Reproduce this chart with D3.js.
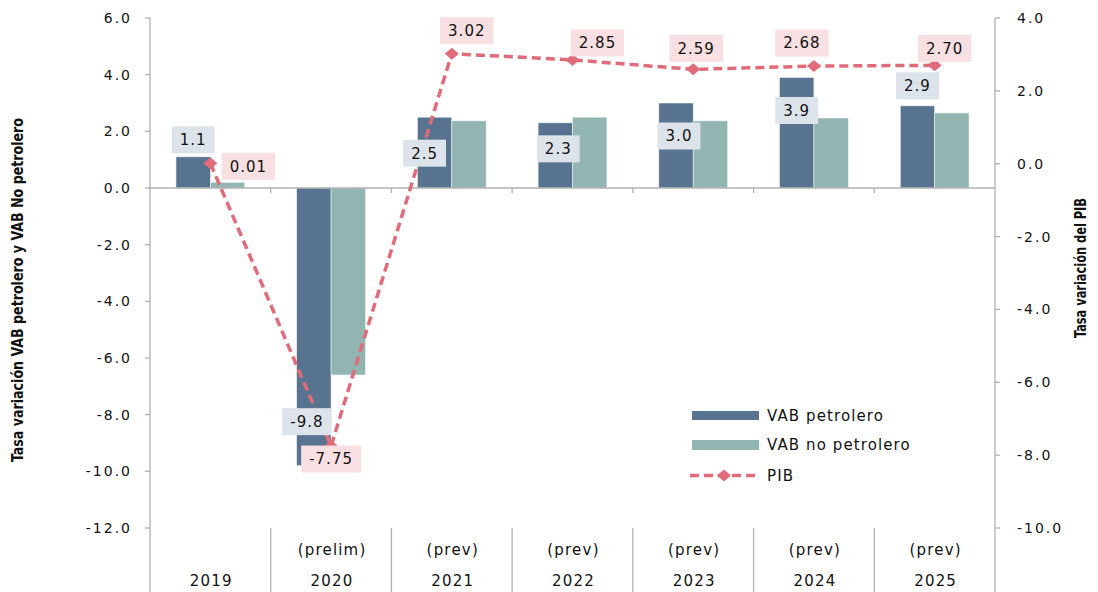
<!DOCTYPE html>
<html>
<head>
<meta charset="utf-8">
<script src="https://cdn.jsdelivr.net/npm/d3@7/dist/d3.min.js"></script>
<style>
  body { margin: 0; background: #fff; }
  svg { display: block; }
  text { font-family: "DejaVu Sans", Verdana, sans-serif; fill: #111; }
</style>
</head>
<body>
<svg id="chart" width="1098" height="592"></svg>
<script>
// Categories and their sub-labels
const years = ["2019", "2020", "2021", "2022", "2023", "2024", "2025"];
const yearNotes = ["", "(prelim)", "(prev)", "(prev)", "(prev)", "(prev)", "(prev)"];

// Growth rates (%)
const vabPetrolero = [1.1, -9.8, 2.5, 2.3, 3.0, 3.9, 2.9];
const vabNoPetrolero = [0.2, -6.6, 2.37, 2.5, 2.37, 2.47, 2.65];
const pib = [0.01, -7.75, 3.02, 2.85, 2.59, 2.68, 2.70];

// Axis ticks
const leftTicks = [6, 4, 2, 0, -2, -4, -6, -8, -10, -12];
const rightTicks = [4, 2, 0, -2, -4, -6, -8, -10];

// Label nudges (px) relative to the bar end / marker
const petroLabelShift = [[0, -17], [-7, -44], [-10, 36], [3, 26], [3, 33], [0, 33], [0, -20]];
const pibLabelShift = [[38, 3], [0, 13], [15, -23], [25, -17], [3, -21], [-12, -23], [10, -17]];

const colors = {
  petro: "#57738f",
  noPetro: "#93b5b1",
  pib: "#e06b79",
  petroBox: "#dce3ea",
  pibBox: "#f8dfe2",
  axis: "#b0b0b0"
};

// Plain hyphen for negatives
const loc = d3.formatLocale({ decimal: ".", thousands: ",", grouping: [3], currency: ["", ""], minus: "-" });
const f1 = loc.format(".1f"), f2 = loc.format(".2f");

const svg = d3.select("#chart");
const plotL = 150, plotR = 995, plotT = 18, plotB = 528;

const x = d3.scaleBand().domain(years).range([plotL, plotR]).padding(0);
const yL = d3.scaleLinear().domain([-12, 6]).range([plotB, plotT]);
const yR = d3.scaleLinear().domain([-10, 4]).range([plotB, plotT]);
const barW = x.bandwidth() * 0.285;
const cx = d => x(d) + x.bandwidth() / 2;

// Bars
const gBars = svg.append("g");
gBars.selectAll("rect.petro").data(years).join("rect")
  .attr("class", "petro")
  .attr("x", d => cx(d) - barW)
  .attr("width", barW)
  .attr("y", (d, i) => Math.min(yL(vabPetrolero[i]), yL(0)))
  .attr("height", (d, i) => Math.abs(yL(vabPetrolero[i]) - yL(0)))
  .attr("fill", colors.petro)
  .attr("stroke", "#eef2f5").attr("stroke-width", 0.6);

gBars.selectAll("rect.nopetro").data(years).join("rect")
  .attr("class", "nopetro")
  .attr("x", d => cx(d))
  .attr("width", barW)
  .attr("y", (d, i) => Math.min(yL(vabNoPetrolero[i]), yL(0)))
  .attr("height", (d, i) => Math.abs(yL(vabNoPetrolero[i]) - yL(0)))
  .attr("fill", colors.noPetro)
  .attr("stroke", "#eef4f3").attr("stroke-width", 0.6);

// Axes
const gAx = svg.append("g").attr("stroke", colors.axis).attr("stroke-width", 1.3);
gAx.append("line").attr("x1", plotL).attr("x2", plotL).attr("y1", plotT).attr("y2", 592);
gAx.append("line").attr("x1", plotR).attr("x2", plotR).attr("y1", plotT).attr("y2", 592);
gAx.append("line").attr("x1", plotL).attr("x2", plotR).attr("y1", yL(0)).attr("y2", yL(0));
// category ticks on the zero line and separators under the plot
years.slice(1).forEach(d => {
  gAx.append("line").attr("x1", x(d)).attr("x2", x(d)).attr("y1", yL(0)).attr("y2", yL(0) + 5);
  gAx.append("line").attr("x1", x(d)).attr("x2", x(d)).attr("y1", plotB).attr("y2", 592);
});
leftTicks.forEach(t => {
  gAx.append("line").attr("x1", plotL - 5).attr("x2", plotL).attr("y1", yL(t)).attr("y2", yL(t));
});
rightTicks.forEach(t => {
  gAx.append("line").attr("x1", plotR).attr("x2", plotR + 5).attr("y1", yR(t)).attr("y2", yR(t));
});

svg.append("g").selectAll("text").data(leftTicks).join("text")
  .attr("x", 132).attr("y", d => yL(d)).attr("dy", "0.36em")
  .attr("text-anchor", "end").attr("font-size", 14).attr("letter-spacing", 2)
  .text(d => f1(d));
svg.append("g").selectAll("text").data(rightTicks).join("text")
  .attr("x", 1017).attr("y", d => yR(d)).attr("dy", "0.36em")
  .attr("text-anchor", "start").attr("font-size", 14).attr("letter-spacing", 2)
  .text(d => f1(d));

// Category labels
svg.append("g").selectAll("text").data(years).join("text")
  .attr("x", d => cx(d) + 1).attr("y", 581).attr("dy", "0.36em")
  .attr("text-anchor", "middle").attr("font-size", 15).attr("letter-spacing", 1.2)
  .text(d => d);
svg.append("g").selectAll("text").data(years).join("text")
  .attr("x", d => cx(d) + 1).attr("y", 550).attr("dy", "0.36em")
  .attr("text-anchor", "middle").attr("font-size", 15).attr("letter-spacing", 1.2)
  .text((d, i) => yearNotes[i]);

// Axis titles
svg.append("text")
  .attr("transform", "translate(23,290) rotate(-90)")
  .attr("text-anchor", "middle")
  .attr("font-weight", "bold").attr("font-size", 15)
  .attr("textLength", 344).attr("lengthAdjust", "spacingAndGlyphs")
  .style("font-family", "'Liberation Sans Narrow', 'DejaVu Sans Condensed', sans-serif")
  .text("Tasa variación VAB petrolero  y VAB No petrolero");
svg.append("text")
  .attr("transform", "translate(1086,268) rotate(-90)")
  .attr("text-anchor", "middle")
  .attr("font-weight", "bold").attr("font-size", 15)
  .attr("textLength", 140).attr("lengthAdjust", "spacingAndGlyphs")
  .style("font-family", "'Liberation Sans Narrow', 'DejaVu Sans Condensed', sans-serif")
  .text("Tasa variación del PIB");

// PIB line
const line = d3.line().x((d, i) => cx(years[i])).y(d => yR(d));
svg.append("path").datum(pib)
  .attr("d", line)
  .attr("fill", "none").attr("stroke", colors.pib)
  .attr("stroke-width", 3.5).attr("stroke-dasharray", "9,5");

const diamond = "M0,-6 L7,0 L0,6 L-7,0Z";
svg.append("g").selectAll("path").data(pib).join("path")
  .attr("d", diamond)
  .attr("transform", (d, i) => `translate(${cx(years[i])},${yR(d)})`)
  .attr("fill", colors.pib);

// Data labels with boxes
function boxLabel(g, px, py, txt, fill) {
  const t = g.append("text").attr("x", px).attr("y", py).attr("dy", "0.36em")
    .attr("text-anchor", "middle").attr("font-size", 15).attr("letter-spacing", 1)
    .text(txt);
  const bb = t.node().getBBox();
  g.insert("rect", () => t.node())
    .attr("x", bb.x - 8).attr("y", py - 13.5)
    .attr("width", bb.width + 16).attr("height", 27)
    .attr("fill", fill);
}
const gLab = svg.append("g");
years.forEach((d, i) => {
  const v = vabPetrolero[i];
  boxLabel(gLab, cx(d) - barW / 2 + petroLabelShift[i][0], yL(v) + petroLabelShift[i][1],
    f1(v), colors.petroBox);
});
years.forEach((d, i) => {
  const v = pib[i];
  boxLabel(gLab, cx(d) + pibLabelShift[i][0], yR(v) + pibLabelShift[i][1],
    f2(v), colors.pibBox);
});

// Legend
const lg = svg.append("g");
lg.append("rect").attr("x", 692).attr("y", 411).attr("width", 67).attr("height", 9).attr("fill", colors.petro);
lg.append("rect").attr("x", 692).attr("y", 440).attr("width", 67).attr("height", 10).attr("fill", colors.noPetro);
lg.append("line").attr("x1", 690).attr("x2", 760).attr("y1", 475.5).attr("y2", 475.5)
  .attr("stroke", colors.pib).attr("stroke-width", 3.5).attr("stroke-dasharray", "9,5");
lg.append("path").attr("d", diamond).attr("transform", "translate(724,475.5)").attr("fill", colors.pib);
[["VAB petrolero", 415.5], ["VAB no petrolero", 445], ["PIB", 475.5]].forEach(([t, y]) => {
  lg.append("text").attr("x", 767).attr("y", y).attr("dy", "0.36em")
    .attr("font-size", 15).attr("letter-spacing", 1.1).text(t);
});
</script>
</body>
</html>
